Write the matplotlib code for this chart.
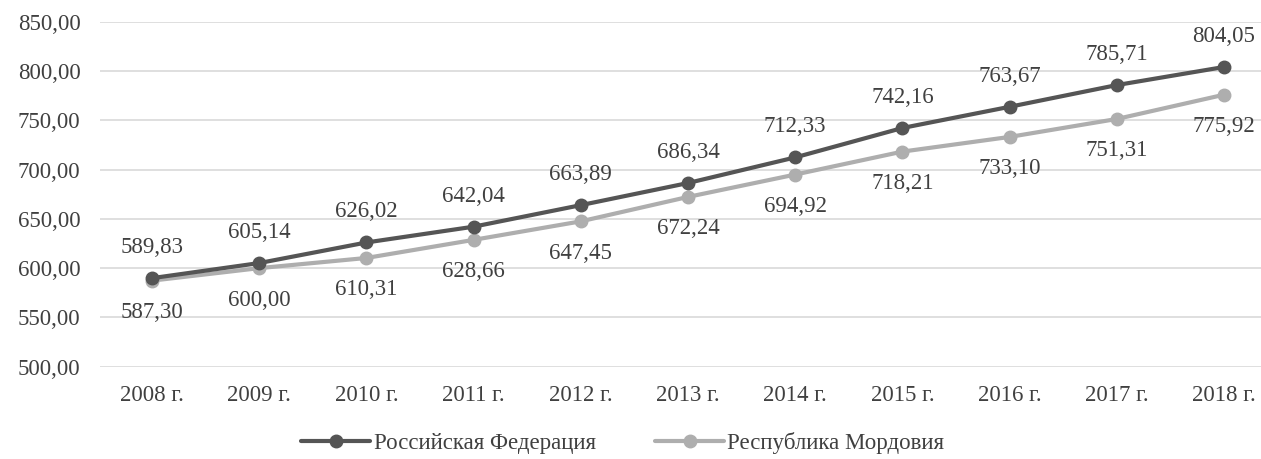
import matplotlib
matplotlib.use("Agg")
import matplotlib.pyplot as plt

years = ["2008 г.", "2009 г.", "2010 г.", "2011 г.", "2012 г.", "2013 г.",
         "2014 г.", "2015 г.", "2016 г.", "2017 г.", "2018 г."]
rf_values = [589.83, 605.14, 626.02, 642.04, 663.89, 686.34, 712.33, 742.16, 763.67, 785.71, 804.05]
rm_values = [587.30, 600.00, 610.31, 628.66, 647.45, 672.24, 694.92, 718.21, 733.10, 751.31, 775.92]
series_names = ["Российская Федерация", "Республика Мордовия"]
y_ticks = [500, 550, 600, 650, 700, 750, 800, 850]

plt.rcParams['font.family'] = ['Liberation Serif', 'DejaVu Serif']
text_color = "#404040"
dark = "#555555"
light = "#aeaeae"
fs = 16.5

def fmt(v):
    return f"{v:.2f}".replace(".", ",")

fig = plt.figure(figsize=(12.61, 4.59), dpi=100)
ax = fig.add_axes([100/1261, 1-366.7/459, 1-100/1261, (366.7-21.7)/459])

x = list(range(len(years)))
ax.plot(x, rf_values, color=dark, lw=3.0, marker="o", ms=9, label=series_names[0], zorder=4,
        solid_capstyle="round")
ax.plot(x, rm_values, color=light, lw=3.0, marker="o", ms=9, label=series_names[1], zorder=3,
        solid_capstyle="round")

for xi, v in zip(x, rf_values):
    ax.annotate(fmt(v), (xi, v), xytext=(0, 22), textcoords="offset points",
                ha="center", va="center", fontsize=fs, color=text_color)
for xi, v in zip(x, rm_values):
    ax.annotate(fmt(v), (xi, v), xytext=(0, -23), textcoords="offset points",
                ha="center", va="center", fontsize=fs, color=text_color)

ax.set_xlim(-0.485, 10.345)
ax.set_ylim(500, 850)
ax.set_yticks(y_ticks)
ax.set_yticklabels([fmt(t) for t in y_ticks])
ax.set_xticks(x)
ax.set_xticklabels(years)
ax.tick_params(axis="both", length=0, labelsize=fs, labelcolor=text_color)
ax.tick_params(axis="y", pad=14)
ax.tick_params(axis="x", pad=13)
ax.grid(axis="y", color="#d9d9d9", lw=1.2)
ax.set_axisbelow(True)
for s in ax.spines.values():
    s.set_visible(False)

leg = fig.legend(loc="center", bbox_to_anchor=(0.494, 0.035), ncol=2, frameon=False,
                 fontsize=fs, handlelength=3.0, columnspacing=2.6, handletextpad=0.15,
                 labelcolor=text_color)

fig.savefig("out.png", dpi=100)
